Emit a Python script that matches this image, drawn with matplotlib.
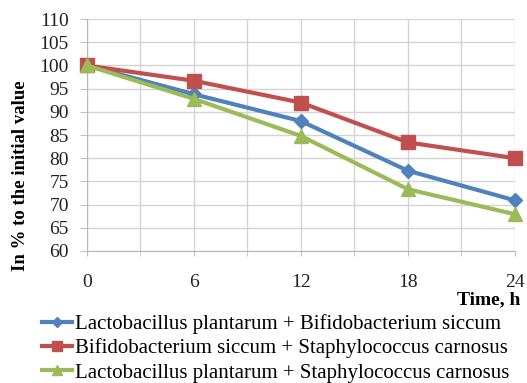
import matplotlib
matplotlib.use("Agg")
import matplotlib.pyplot as plt

hours = [0, 6, 12, 18, 24]
series_names = [
    "Lactobacillus plantarum + Bifidobacterium siccum",
    "Bifidobacterium siccum + Staphylococcus carnosus",
    "Lactobacillus plantarum + Staphylococcus carnosus",
]
lp_bs = [100, 93.8, 88, 77.3, 70.9]
bs_sc = [100, 96.7, 92, 83.4, 80]
lp_sc = [100, 92.8, 84.8, 73.3, 67.9]
y_ticks = list(range(60, 111, 5))
x_ticks = [0, 6, 12, 18, 24]

plt.rcParams['font.family'] = ['Liberation Serif', 'DejaVu Serif']

fig = plt.figure(figsize=(5.27, 3.83), dpi=100)
ax = fig.add_axes([0.165, 0.345, 0.812, 0.605])

colors = ['#4f81bd', '#c0504d', '#9bbb59']
markers = ['D', 's', '^']
msizes = [7, 10, 10]
for vals, c, m, ms, name in zip([lp_bs, bs_sc, lp_sc], colors, markers, msizes, series_names):
    ax.plot(hours, vals, color=c, marker=m, markersize=ms, linewidth=3.0, label=name,
            clip_on=False, zorder=3)

ax.set_xlim(0, 24)
ax.set_ylim(60, 110)
ax.set_yticks(y_ticks)
ax.set_xticks(x_ticks)
ax.set_xticks(range(0, 25, 3), minor=True)
ax.grid(True, which='both', color='#d4d4d4', linewidth=1)
ax.set_axisbelow(True)
for s in ['top', 'right']:
    ax.spines[s].set_visible(False)
for s in ['left', 'bottom']:
    ax.spines[s].set_color('#b8b8b8')
ax.tick_params(axis='both', which='both', color='#c0c0c0', labelsize=14, colors='#222222')
ax.tick_params(axis='y', which='major', length=5, pad=8)
ax.tick_params(axis='x', which='both', length=3.5)
ax.tick_params(axis='x', which='major', pad=13)

fig.text(21 / 527, 1 - 176 / 383, "In % to the initial value", rotation=90, ha='center', va='center',
         fontsize=13.5, fontweight='bold')
fig.text(0.987, 0.217, "Time, h", ha='right', va='center', fontsize=14, fontweight='bold')

leg = fig.legend(loc='upper left', bbox_to_anchor=(42 / 527, 1 - 314 / 383), frameon=False, fontsize=15,
                 handlelength=1.45, handletextpad=0.15, labelspacing=0.22, borderaxespad=0, borderpad=0,
                 markerscale=0.7)

fig.savefig("out.png", dpi=100)
